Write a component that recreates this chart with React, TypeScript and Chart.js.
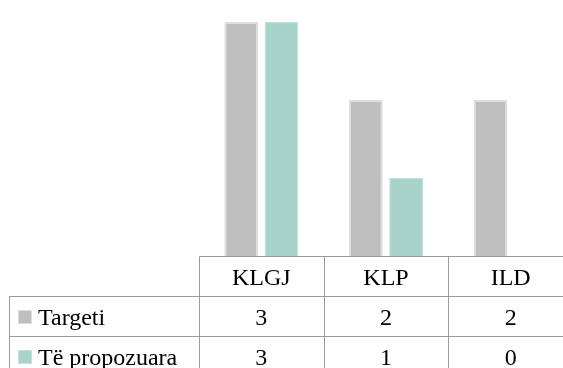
import React, { useEffect, useRef, useState } from "react";
import { Chart, registerables } from "chart.js";

Chart.register(...registerables);

const categories = ["KLGJ", "KLP", "ILD"];
const seriesNames = ["Targeti", "Të propozuara"];
const targeti = [3, 2, 2];
const propozuara = [3, 1, 0];

const GRAY = "#bfbfbf";
const GRAY_BORDER = "#dedede";
const TEAL = "#a8d3c8";
const TEAL_BORDER = "#c2e2da";
const LINE = "#9a9a9a";
const FONT_FAMILY =
  '"Liberation Serif", "Times New Roman", Times, Tinos, "Nimbus Roman", "Nimbus Roman No9 L", FreeSerif, "Noto Serif", "DejaVu Serif", Georgia, serif';

const CANVAS_W = 580;
const CANVAS_H = 385;
const OFFSET_Y = -17;
const ROW_H = 40;

const tablePlugin = {
  id: "dataTable",
  afterDraw(chart: any) {
    const { ctx, chartArea } = chart;
    const xs = chart.scales.x;
    const n = categories.length;
    const colW = (chartArea.right - chartArea.left) / n;
    const top = Math.round(chartArea.bottom) + 0.5;
    const bottom = CANVAS_H + 10;
    const legendLeft = 9.5;
    const rows = [targeti, propozuara];
    const fills = [GRAY, TEAL];
    const borders = [GRAY_BORDER, TEAL_BORDER];

    ctx.save();
    ctx.strokeStyle = LINE;
    ctx.lineWidth = 1;
    ctx.beginPath();
    ctx.moveTo(Math.round(chartArea.left) + 0.5, top);
    ctx.lineTo(chart.width, top);
    for (let r = 1; r <= rows.length; r++) {
      const y = top + r * ROW_H;
      ctx.moveTo(legendLeft, y);
      ctx.lineTo(chart.width, y);
    }
    ctx.moveTo(legendLeft, top + ROW_H);
    ctx.lineTo(legendLeft, bottom);
    for (let i = 0; i < n; i++) {
      const x = Math.round(xs.getPixelForValue(i) - colW / 2) + 0.5;
      ctx.moveTo(x, top);
      ctx.lineTo(x, bottom);
    }
    ctx.stroke();

    rows.forEach((_, r) => {
      const rowTop = top + (r + 1) * ROW_H;
      const sy = Math.round(rowTop + ROW_H / 2 - 7);
      ctx.fillStyle = borders[r];
      ctx.fillRect(18, sy, 14, 14);
      ctx.fillStyle = fills[r];
      ctx.fillRect(19, sy + 1, 12, 12);
    });
    ctx.restore();
  },
};

type Layout = { centers: number[]; colW: number; top: number };

export default function App() {
  const ref = useRef<HTMLCanvasElement | null>(null);
  const [layout, setLayout] = useState<Layout | null>(null);

  useEffect(() => {
    if (!ref.current) return;
    const chart = new Chart(ref.current, {
      type: "bar",
      data: {
        labels: categories,
        datasets: [
          {
            label: seriesNames[0],
            data: targeti,
            backgroundColor: GRAY,
            borderColor: GRAY_BORDER,
            borderWidth: 2,
          },
          {
            label: seriesNames[1],
            data: propozuara,
            backgroundColor: TEAL,
            borderColor: TEAL_BORDER,
            borderWidth: 1,
          },
        ],
      },
      options: {
        responsive: false,
        animation: false,
        devicePixelRatio: 1,
        layout: { padding: { left: 199, right: CANVAS_W - 573, top: 0, bottom: 112 } },
        datasets: {
          bar: { categoryPercentage: 0.645, barPercentage: 0.84 },
        },
        scales: {
          x: { display: false },
          y: { display: false, min: 0, max: 3.5 },
        },
        plugins: {
          legend: { display: false },
          tooltip: { enabled: false },
        },
      },
      plugins: [tablePlugin],
    });
    const xs: any = chart.scales.x;
    const ca = chart.chartArea;
    setLayout({
      centers: categories.map((_, i) => xs.getPixelForValue(i)),
      colW: (ca.right - ca.left) / categories.length,
      top: Math.round(ca.bottom) + OFFSET_Y,
    });
    return () => chart.destroy();
  }, []);

  const rows = [targeti, propozuara];
  const cellStyle = (left: number, top: number, width: number, align: "center" | "left") => ({
    position: "absolute" as const,
    left,
    top: top + 1,
    width,
    height: ROW_H,
    lineHeight: `${ROW_H}px`,
    textAlign: align,
    whiteSpace: "nowrap" as const,
  });

  return (
    <div
      style={{
        position: "fixed",
        left: 0,
        top: 0,
        width: 563,
        height: 368,
        overflow: "hidden",
        background: "#fff",
        fontFamily: FONT_FAMILY,
        fontSize: 24,
        color: "#000",
      }}
    >
      <canvas
        ref={ref}
        width={CANVAS_W}
        height={CANVAS_H}
        style={{ position: "absolute", left: 0, top: OFFSET_Y, width: CANVAS_W, height: CANVAS_H }}
      />
      {layout &&
        categories.map((c, i) => (
          <div key={"h" + i} style={cellStyle(layout.centers[i] - layout.colW / 2, layout.top, layout.colW, "center")}>
            {c}
          </div>
        ))}
      {layout &&
        rows.map((vals, r) => (
          <React.Fragment key={"r" + r}>
            <div style={cellStyle(38, layout.top + (r + 1) * ROW_H, 160, "left")}>{seriesNames[r]}</div>
            {vals.map((v, i) => (
              <div
                key={"v" + r + i}
                style={cellStyle(layout.centers[i] - layout.colW / 2, layout.top + (r + 1) * ROW_H, layout.colW, "center")}
              >
                {v}
              </div>
            ))}
          </React.Fragment>
        ))}
    </div>
  );
}
